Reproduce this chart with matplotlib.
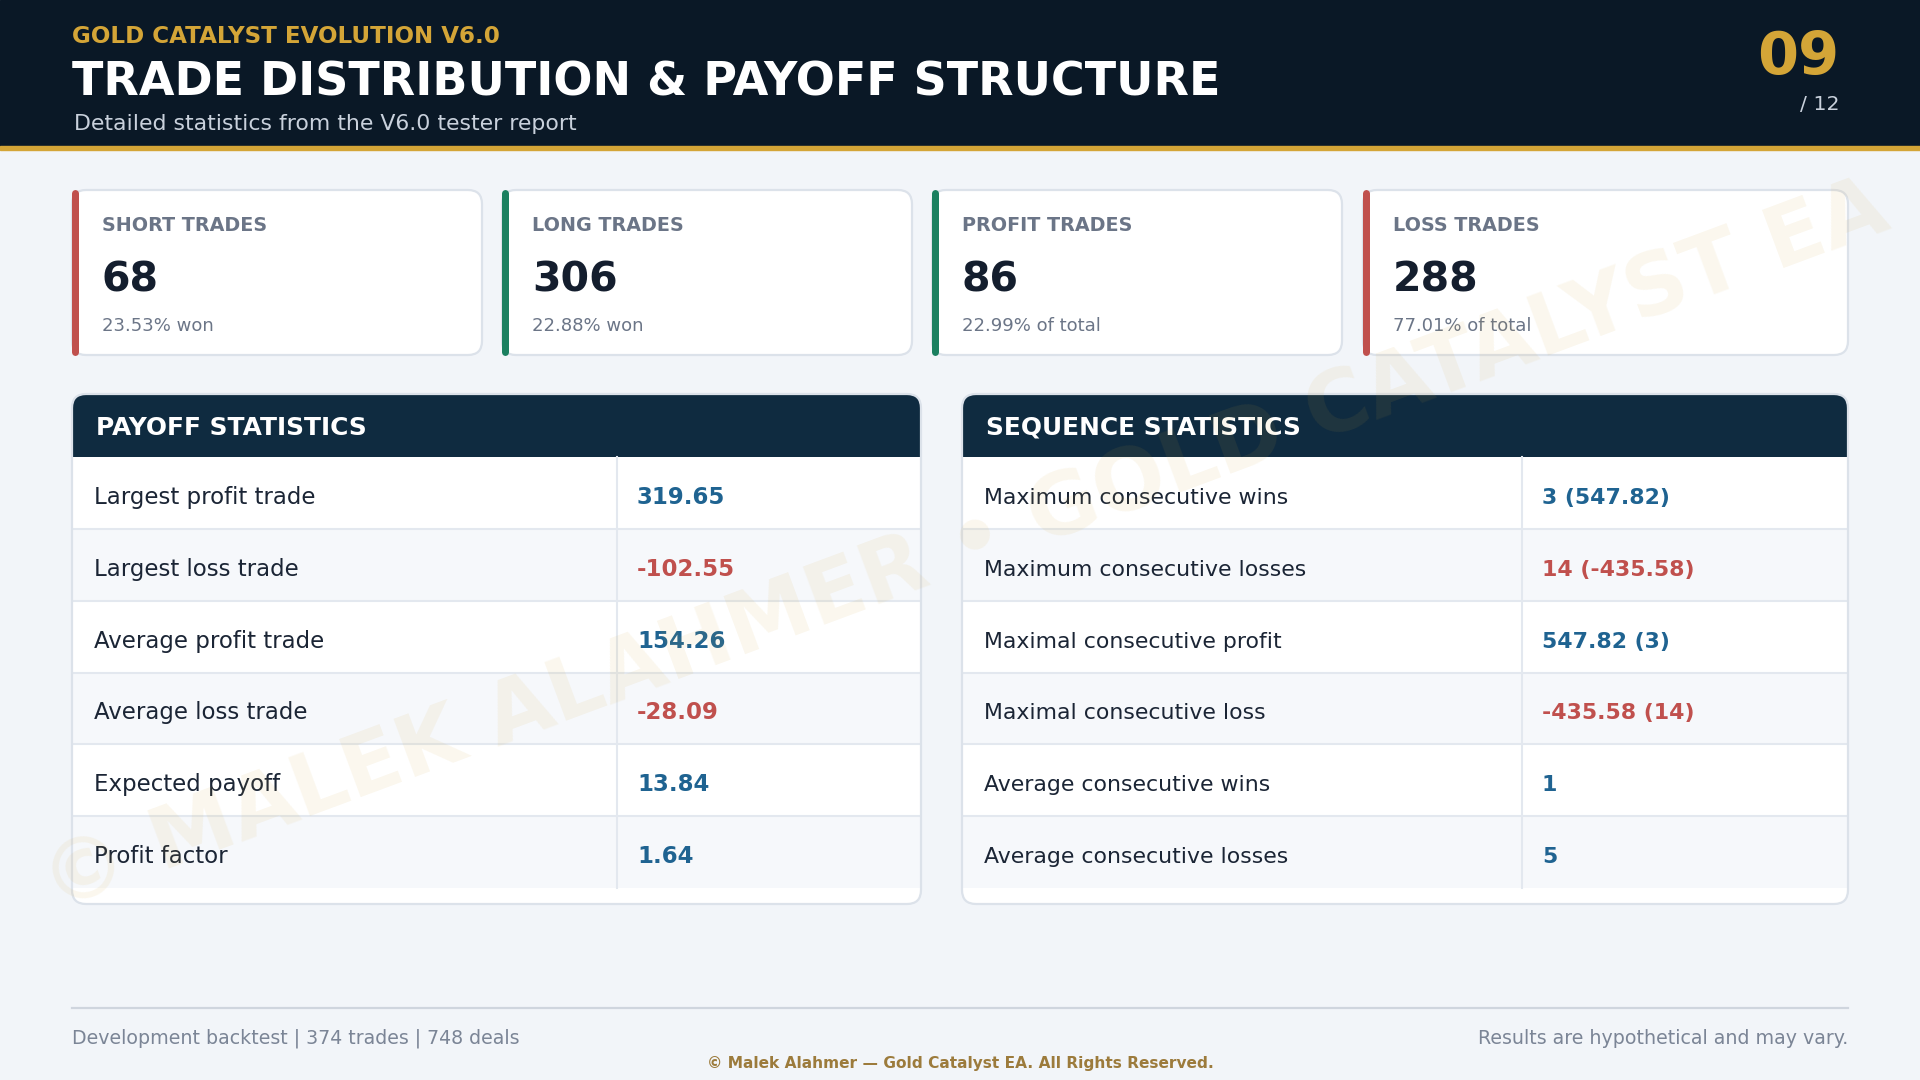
import matplotlib
matplotlib.use("Agg")
import matplotlib.pyplot as plt
from matplotlib.patches import FancyBboxPatch, Rectangle

# ---- data ----
eyebrow = "GOLD CATALYST EVOLUTION V6.0"
title = "TRADE DISTRIBUTION & PAYOFF STRUCTURE"
subtitle = "Detailed statistics from the V6.0 tester report"
page_no = "09"
page_total = "/ 12"

card_labels = ["SHORT TRADES", "LONG TRADES", "PROFIT TRADES", "LOSS TRADES"]
card_values = [68, 306, 86, 288]
card_notes = ["23.53% won", "22.88% won", "22.99% of total", "77.01% of total"]
card_kind = ["loss", "win", "win", "loss"]

payoff_labels = ["Largest profit trade", "Largest loss trade", "Average profit trade",
                 "Average loss trade", "Expected payoff", "Profit factor"]
payoff_values = ["319.65", "-102.55", "154.26", "-28.09", "13.84", "1.64"]

seq_labels = ["Maximum consecutive wins", "Maximum consecutive losses",
              "Maximal consecutive profit", "Maximal consecutive loss",
              "Average consecutive wins", "Average consecutive losses"]
seq_values = ["3 (547.82)", "14 (-435.58)", "547.82 (3)", "-435.58 (14)", "1", "5"]

footer_left = "Development backtest | 374 trades | 748 deals"
footer_right = "Results are hypothetical and may vary."
copyright_line = "\u00a9 Malek Alahmer \u2014 Gold Catalyst EA. All Rights Reserved."
watermark = "\u00a9 MALEK ALAHMER \u2022 GOLD CATALYST EA"

# ---- colours ----
BG = "#f2f5f9"
NAVY = "#0a1826"
PANEL_HEAD = "#0f2b40"
GOLD = "#d4a537"
RED = "#c0504d"
GREEN = "#1b8060"
BLUE = "#1f6391"
INK = "#141e2e"
GREY = "#6b7587"
BORDER = "#dce2ea"

W, H = 1920, 1080
fig = plt.figure(figsize=(19.2, 10.8), dpi=100)
fig.patch.set_facecolor(BG)
ax = fig.add_axes([0, 0, 1, 1])
ax.set_xlim(0, W)
ax.set_ylim(H, 0)
ax.axis("off")


def pt(px):
    # pixel height -> points at 100 dpi
    return px * 72 / 100


# header band
ax.add_patch(Rectangle((0, 0), W, 146, color=NAVY, zorder=1))
ax.add_patch(Rectangle((0, 146), W, 4, color=GOLD, zorder=1))
ax.text(72, 43, eyebrow, color=GOLD, fontsize=pt(23), fontweight="bold", va="baseline")
ax.text(72, 95, title, color="white", fontsize=pt(46), fontweight="bold", va="baseline")
ax.text(74, 130, subtitle, color="#c9d1dc", fontsize=pt(22), va="baseline")
ax.text(1839, 74, page_no, color=GOLD, fontsize=pt(59), fontweight="bold", ha="right", va="baseline")
ax.text(1839, 110, page_total, color="#c9d1dc", fontsize=pt(20.5), ha="right", va="baseline")

# stat cards
card_x = [72, 502, 932, 1363]
card_w = [410, 410, 410, 485]
card_top, card_bot = 190, 355
for i, lab in enumerate(card_labels):
    x0 = card_x[i]
    ax.add_patch(FancyBboxPatch((x0, card_top), card_w[i], card_bot - card_top,
                                boxstyle="round,pad=0,rounding_size=14",
                                fc="white", ec=BORDER, lw=1.6, zorder=2))
    bar_col = RED if card_kind[i] == "loss" else GREEN
    ax.plot([x0 + 3, x0 + 3], [card_top + 3, card_bot - 3], color=bar_col, lw=pt(7),
            solid_capstyle="round", zorder=3)
    tx = x0 + 30
    ax.text(tx, 231, lab, color=GREY, fontsize=pt(19.1), fontweight="bold", va="baseline", zorder=4)
    ax.text(tx, 291, str(card_values[i]), color=INK, fontsize=pt(41), fontweight="bold",
            va="baseline", zorder=4)
    ax.text(tx, 331, card_notes[i], color=GREY, fontsize=pt(18), va="baseline", zorder=4)


def stat_panel(x0, x1, xdiv, heading, labels, values, fs):
    top, head_bot, rows_bot, bot = 394, 457, 888, 904
    ax.add_patch(FancyBboxPatch((x0, top), x1 - x0, bot - top,
                                boxstyle="round,pad=0,rounding_size=14",
                                fc="white", ec="none", zorder=2))
    ax.add_patch(FancyBboxPatch((x0, top), x1 - x0, 40,
                                boxstyle="round,pad=0,rounding_size=14",
                                fc=PANEL_HEAD, ec="none", zorder=3))
    ax.add_patch(Rectangle((x0, top + 20), x1 - x0, head_bot - top - 20, fc=PANEL_HEAD,
                           ec="none", zorder=3))
    ax.text(x0 + 24, 435, heading, color="white", fontsize=pt(24.9), fontweight="bold",
            va="baseline", zorder=5)
    rh = (rows_bot - head_bot) / len(labels)
    for r, (lab, val) in enumerate(zip(labels, values)):
        y = head_bot + r * rh
        ax.add_patch(Rectangle((x0 + 1, y), x1 - x0 - 2, rh,
                               fc="white" if r % 2 == 0 else "#f6f8fb", ec="none", zorder=3))
        if r > 0:
            ax.plot([x0 + 1, x1 - 1], [y, y], color="#e3e8ef", lw=1.5, zorder=4)
        yb = y + rh / 2 + 11
        ax.text(x0 + 22, yb, lab, color="#1b2535", fontsize=pt(fs), va="baseline", zorder=5)
        ax.text(xdiv + 20, yb, val, color=RED if "-" in val else BLUE, fontsize=pt(fs),
                fontweight="bold", va="baseline", zorder=5)
    ax.plot([xdiv, xdiv], [head_bot, rows_bot], color="#e3e8ef", lw=1.5, zorder=4)
    ax.add_patch(FancyBboxPatch((x0, top), x1 - x0, bot - top,
                                boxstyle="round,pad=0,rounding_size=14",
                                fc="none", ec=BORDER, lw=1.6, zorder=6))


stat_panel(72, 921, 617, "PAYOFF STATISTICS", payoff_labels, payoff_values, 22.9)
stat_panel(962, 1848, 1522, "SEQUENCE STATISTICS", seq_labels, seq_values, 22.0)

# watermark across the body
ax.text(965, 547, watermark, color=GOLD, alpha=0.085, fontsize=pt(85), fontweight="bold",
        rotation=20.4, ha="center", va="center", rotation_mode="anchor", zorder=7)

# footer
ax.plot([72, 1848], [1008, 1008], color="#cfd5de", lw=1.6, zorder=2)
ax.text(72, 1044, footer_left, color="#7b8596", fontsize=pt(19), va="baseline")
ax.text(1848, 1044, footer_right, color="#7b8596", fontsize=pt(19), ha="right", va="baseline")
ax.text(960, 1068, copyright_line, color="#9c7b3c", fontsize=pt(15.4), fontweight="bold",
        ha="center", va="baseline")

fig.savefig("out.png", dpi=100, facecolor=BG)
